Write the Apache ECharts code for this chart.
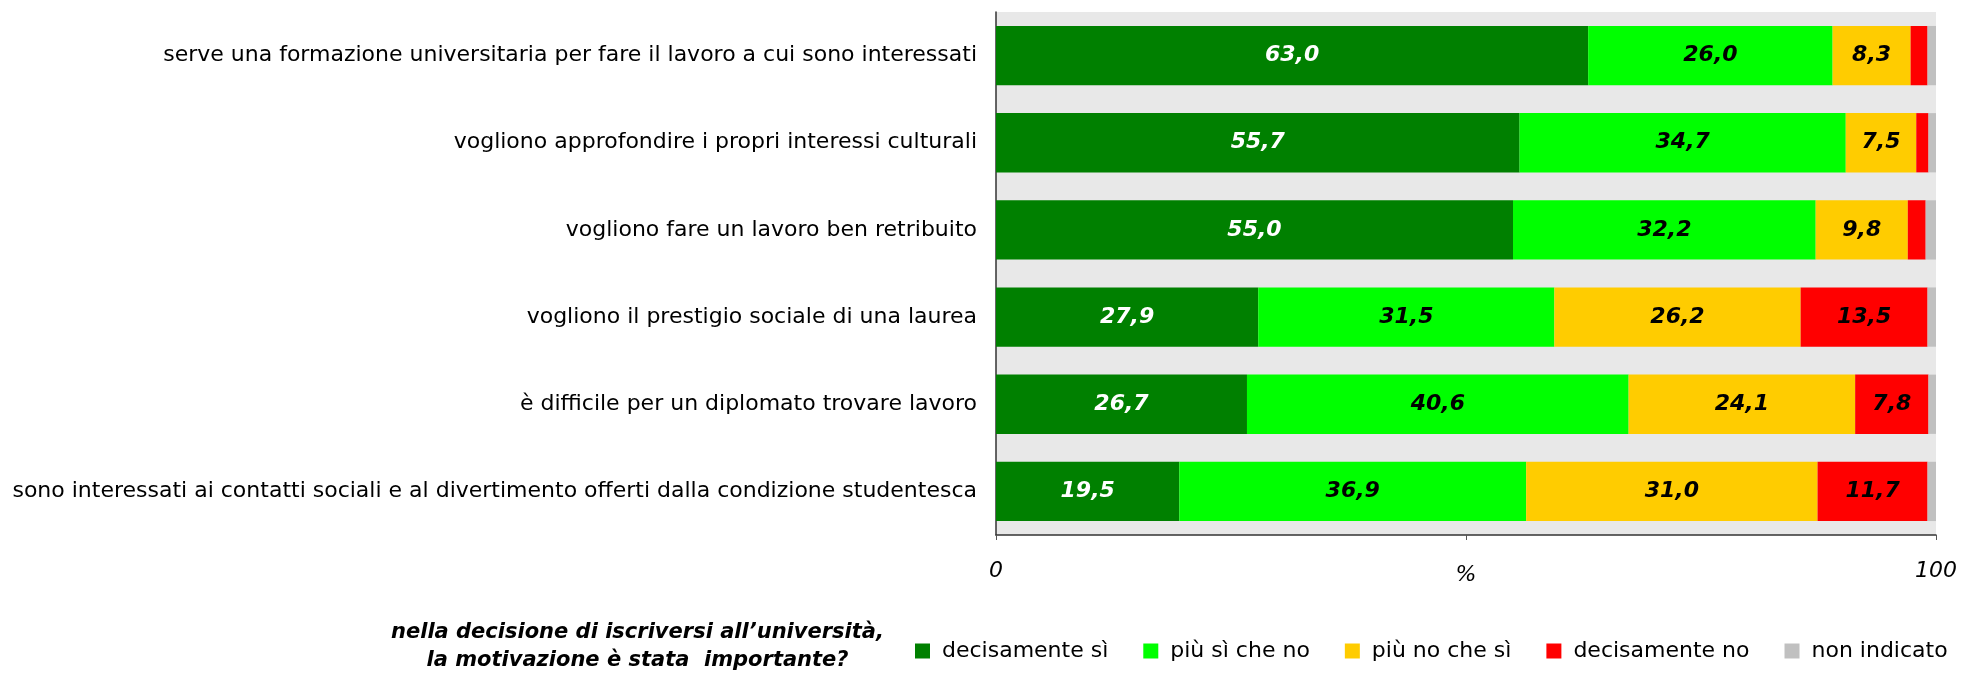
<!DOCTYPE html>
<html>
<head>
<meta charset="utf-8">
<script src="https://cdn.jsdelivr.net/npm/echarts@6/dist/echarts.min.js"></script>
<style>html,body{margin:0;padding:0;background:#fff;}#c{width:1961px;height:673px;}</style>
</head>
<body>
<div id="c"></div>
<script>
var categories = [
  "serve una formazione universitaria per fare il lavoro a cui sono interessati",
  "vogliono approfondire i propri interessi culturali",
  "vogliono fare un lavoro ben retribuito",
  "vogliono il prestigio sociale di una laurea",
  "è difficile per un diplomato trovare lavoro",
  "sono interessati ai contatti sociali e al divertimento offerti dalla condizione studentesca"
];
var seriesNames = ["decisamente sì", "più sì che no", "più no che sì", "decisamente no", "non indicato"];
var decisamenteSi = [63.0, 55.7, 55.0, 27.9, 26.7, 19.5];
var piuSiCheNo   = [26.0, 34.7, 32.2, 31.5, 40.6, 36.9];
var piuNoCheSi   = [8.3, 7.5, 9.8, 26.2, 24.1, 31.0];
var decisamenteNo = [1.8, 1.3, 1.9, 13.5, 7.8, 11.7];
var nonIndicato  = [0.9, 0.8, 1.1, 0.9, 0.8, 0.9];
var xTickLabels = ["0", "100"];
var legendTitle = "nella decisione di iscriversi all\u2019università,\nla motivazione è stata  importante?";

var colors = ["#008000", "#00ff00", "#ffcc00", "#ff0000", "#c0c0c0"];
var labelColors = ["#ffffff", "#000000", "#000000", "#000000", "#000000"];
var seriesData = [decisamenteSi, piuSiCheNo, piuNoCheSi, decisamenteNo, nonIndicato];
var FONT = "DejaVu Sans";

var series = seriesData.map(function (arr, i) {
  return {
    name: seriesNames[i],
    type: 'bar',
    stack: 'tot',
    barCategoryGap: '32%',
    data: arr.slice().reverse(),
    itemStyle: { color: colors[i] },
    label: {
      show: true,
      position: 'inside',
      color: labelColors[i],
      fontFamily: FONT,
      fontSize: 22,
      fontWeight: 'bold',
      fontStyle: 'italic',
      formatter: function (p) {
        return p.value >= 5 ? p.value.toFixed(1).replace('.', ',') : '';
      }
    },
    emphasis: { disabled: true },
    animation: false
  };
});

var chart = echarts.init(document.getElementById('c'), null, { renderer: 'canvas' });
chart.setOption({
  animation: false,
  grid: {
    left: 996, right: 25, top: 12, bottom: 138,
    show: true, backgroundColor: '#e8e8e8', borderWidth: 0
  },
  xAxis: {
    type: 'value', min: 0, max: 100, interval: 50,
    name: '%', nameLocation: 'middle', nameGap: 40, nameMoveOverlap: false,
    nameTextStyle: { fontFamily: FONT, fontSize: 22, fontStyle: 'italic', color: '#000', verticalAlign: 'middle' },
    axisLine: { show: true, lineStyle: { color: '#333', width: 1.5 } },
    axisTick: { show: true, length: 5, lineStyle: { color: '#555' } },
    splitLine: { show: false },
    axisLabel: {
      margin: 25, fontFamily: FONT, fontSize: 22, fontStyle: 'italic', color: '#000',
      formatter: function (v) { return v === 0 ? xTickLabels[0] : (v === 100 ? xTickLabels[1] : ''); }
    }
  },
  yAxis: {
    type: 'category',
    data: categories.slice().reverse(),
    axisLine: { show: true, lineStyle: { color: '#333', width: 1.5 } },
    axisTick: { show: false },
    axisLabel: { margin: 19, fontFamily: FONT, fontSize: 22, color: '#000' }
  },
  legend: {
    left: 915, top: 640, padding: 0,
    itemWidth: 15, itemHeight: 15, itemGap: 35,
    icon: 'rect',
    textStyle: { fontFamily: FONT, fontSize: 22, color: '#000', padding: [0, 0, 0, 7] },
    data: seriesNames
  },
  graphic: [{
    type: 'text',
    left: 391, top: 619,
    style: {
      text: legendTitle,
      x: 0, y: 0,
      fill: '#000',
      font: 'italic bold 21px "DejaVu Sans"',
      textAlign: 'center',
      lineHeight: 28
    }
  }],
  series: series
});
</script>
</body>
</html>
